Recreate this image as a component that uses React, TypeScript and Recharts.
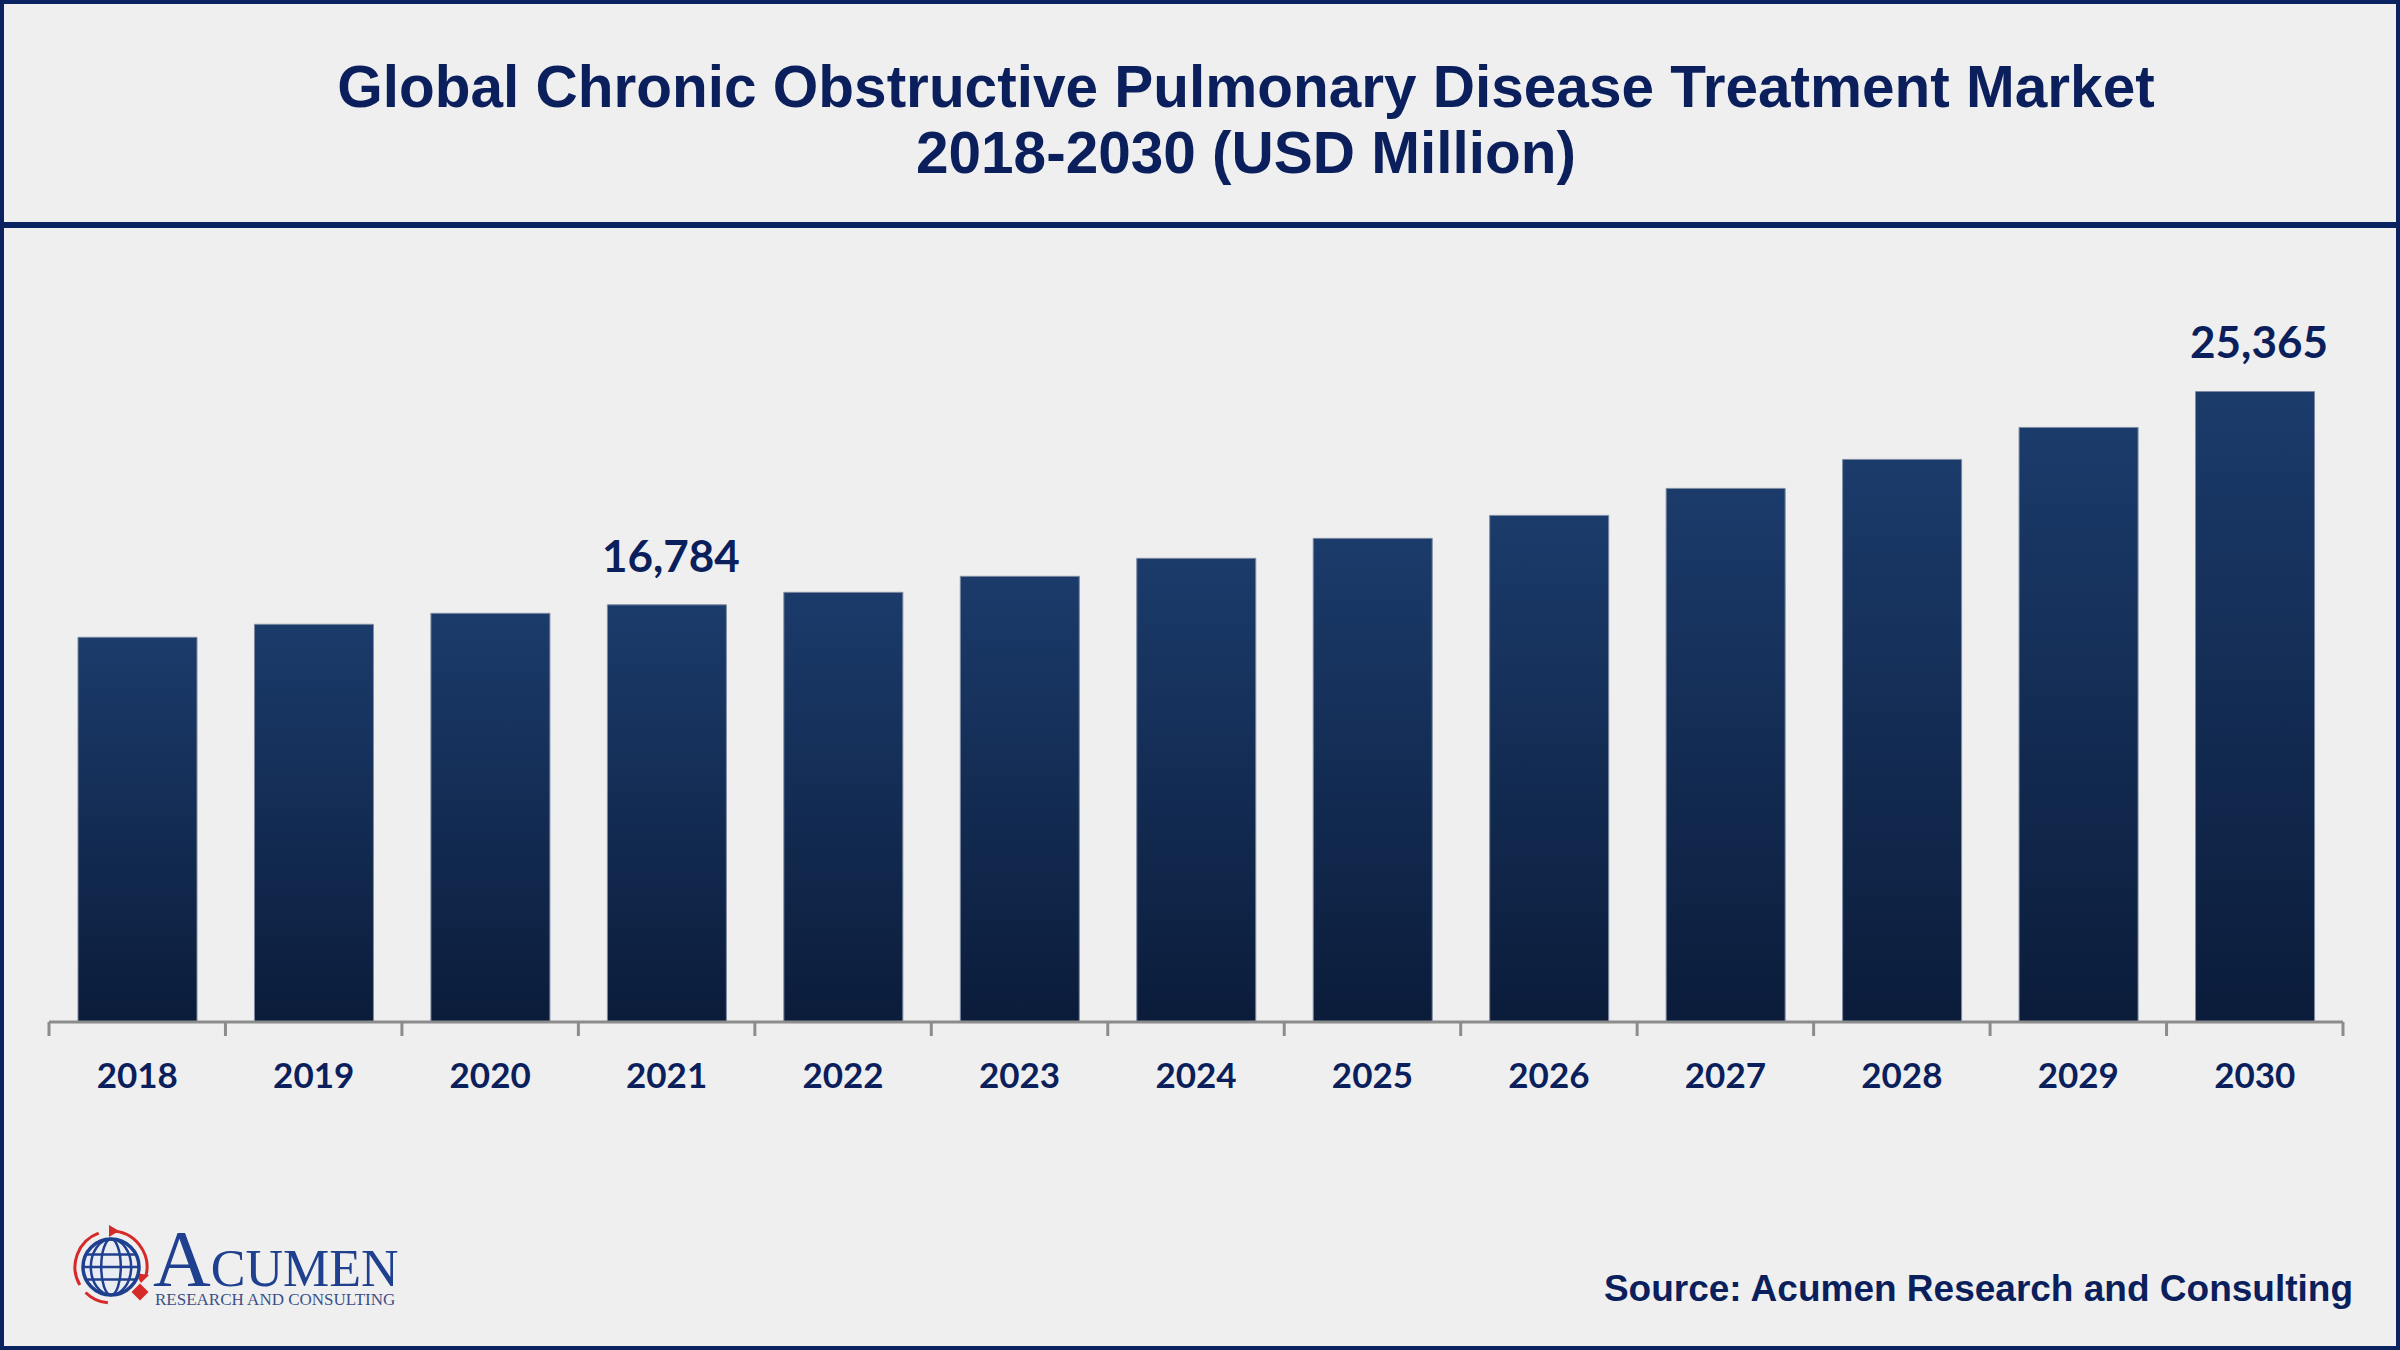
import React from "react";
import { BarChart, Bar, XAxis, YAxis, LabelList } from "recharts";

const years = ["2018", "2019", "2020", "2021", "2022", "2023", "2024", "2025", "2026", "2027", "2028", "2029", "2030"];
const marketValues = [15477, 16000, 16442, 16784, 17286, 17929, 18653, 19457, 20381, 21467, 22633, 23919, 25365];
const labeledYears = ["2021", "2030"];

const titleLines = ["Global Chronic Obstructive Pulmonary Disease Treatment Market", "2018-2030 (USD Million)"];
const sourceText = "Source: Acumen Research and Consulting";

const W = 2400;
const H = 1350;
const NAVY = "#0b1f5c";
const AXIS_GREY = "#8c8c8c";
const MARGIN = { top: 326, right: 57, bottom: 248, left: 49 };
const BAND = (W - MARGIN.left - MARGIN.right) / years.length;

const data = years.map((year, i) => ({ year, value: marketValues[i] }));

function YearTick(props: any) {
  const { x, y, payload, index } = props;
  const half = BAND / 2;
  return (
    <g>
      <line x1={x - half} x2={x - half} y1={y} y2={y + 14} stroke={AXIS_GREY} strokeWidth={3} />
      {index === years.length - 1 && (
        <line x1={x + half} x2={x + half} y1={y} y2={y + 14} stroke={AXIS_GREY} strokeWidth={3} />
      )}
      <text
        x={x}
        y={y + 66}
        textAnchor="middle"
        fontFamily="Lato"
        fontWeight={700}
        fontSize={35}
        fill={NAVY}
      >
        {payload.value}
      </text>
    </g>
  );
}

function ValueLabel(props: any) {
  const { index, value } = props;
  const vb = props.viewBox || {};
  const x = props.x ?? vb.x;
  const y = props.y ?? vb.y;
  const width = props.width ?? vb.width;
  if (!labeledYears.includes(years[index])) return null;
  return (
    <text
      x={x + width / 2 + 4}
      y={y - 33}
      textAnchor="middle"
      fontFamily="Lato"
      fontWeight={700}
      fontSize={44}
      fill={NAVY}
    >
      {Number(value).toLocaleString("en-US")}
    </text>
  );
}

function Logo() {
  const cx = 111;
  const cy = 1267;
  const r = 28;
  const blue = "#1f3f8f";
  const red = "#d62a2a";
  const arc = (a0: number, a1: number, rr: number) => {
    const p = (a: number) => [cx + rr * Math.cos((a * Math.PI) / 180), cy + rr * Math.sin((a * Math.PI) / 180)];
    const [x0, y0] = p(a0);
    const [x1, y1] = p(a1);
    return `M ${x0} ${y0} A ${rr} ${rr} 0 0 1 ${x1} ${y1}`;
  };
  return (
    <g>
      <path d={arc(150, 250, 36)} stroke={red} strokeWidth={3} fill="none" />
      <path d={arc(270, 15, 36)} stroke={red} strokeWidth={3} fill="none" />
      <path d={arc(95, 135, 36)} stroke={red} strokeWidth={3} fill="none" />
      <polygon points={`${cx - 2},${cy - 42} ${cx + 8},${cy - 36} ${cx - 2},${cy - 30}`} fill={red} />
      <polygon points={`${cx + 38},${cy + 8} ${cx + 30},${cy + 16} ${cx + 24},${cy + 6}`} fill={red} />
      <circle cx={cx} cy={cy} r={r} fill="#e9ecf3" stroke={blue} strokeWidth={3.5} />
      <ellipse cx={cx} cy={cy} rx={r * 0.35} ry={r} fill="none" stroke={blue} strokeWidth={2.5} />
      <ellipse cx={cx} cy={cy} rx={r * 0.72} ry={r} fill="none" stroke={blue} strokeWidth={2.5} />
      <line x1={cx - r} x2={cx + r} y1={cy} y2={cy} stroke={blue} strokeWidth={2.5} />
      <line x1={cx - r * 0.9} x2={cx + r * 0.9} y1={cy - r * 0.45} y2={cy - r * 0.45} stroke={blue} strokeWidth={2.5} />
      <line x1={cx - r * 0.9} x2={cx + r * 0.9} y1={cy + r * 0.45} y2={cy + r * 0.45} stroke={blue} strokeWidth={2.5} />
      <rect x={134} y={1286} width={12} height={12} fill={red} transform="rotate(45 140 1292)" />
      <text fontFamily="Liberation Serif" fill={blue}>
        <tspan x={153} y={1286} fontSize={80}>A</tspan>
        <tspan fontSize={52}>CUMEN</tspan>
        <tspan x={155} y={1305} fontSize={17} fill="#3c5088">RESEARCH AND CONSULTING</tspan>
      </text>
    </g>
  );
}

export default function App() {
  return (
    <div style={{ position: "absolute", left: 0, top: 0, width: W, height: H, background: "#efefef", overflow: "hidden" }}>
      <div style={{ position: "absolute", left: 0, top: 0 }}>
        <BarChart width={W} height={H} data={data} margin={MARGIN}>
          <defs>
            <linearGradient id="barFill" x1="0" y1="0" x2="0" y2="1">
              <stop offset="0%" stopColor="#1b3b6b" />
              <stop offset="100%" stopColor="#0b1c3a" />
            </linearGradient>
          </defs>
          <XAxis
            dataKey="year"
            height={80}
            interval={0}
            tickSize={0}
            tickMargin={0}
            tickLine={false}
            axisLine={{ stroke: AXIS_GREY, strokeWidth: 3 }}
            tick={<YearTick />}
          />
          <YAxis hide domain={[0, 28000]} />
          <Bar dataKey="value" fill="url(#barFill)" barSize={119} stroke="#7d8aa3" strokeWidth={1} isAnimationActive={false}>
            <LabelList dataKey="value" content={<ValueLabel />} />
          </Bar>
        </BarChart>
      </div>
      <svg width={W} height={H} style={{ position: "absolute", left: 0, top: 0, pointerEvents: "none" }}>
        <rect x={2} y={2} width={W - 4} height={H - 4} fill="none" stroke="#0b2260" strokeWidth={4} />
        <rect x={0} y={222} width={W} height={6} fill="#0b2260" />
        <text x={1246} y={107} textAnchor="middle" fontFamily="Liberation Sans" fontWeight={700} fontSize={58.5} fill={NAVY}>
          {titleLines[0]}
        </text>
        <text x={1246} y={173} textAnchor="middle" fontFamily="Liberation Sans" fontWeight={700} fontSize={58.5} fill={NAVY}>
          {titleLines[1]}
        </text>
        <text x={2353} y={1301} textAnchor="end" fontFamily="Liberation Sans" fontWeight={700} fontSize={37} fill={NAVY}>
          {sourceText}
        </text>
        <Logo />
      </svg>
    </div>
  );
}
